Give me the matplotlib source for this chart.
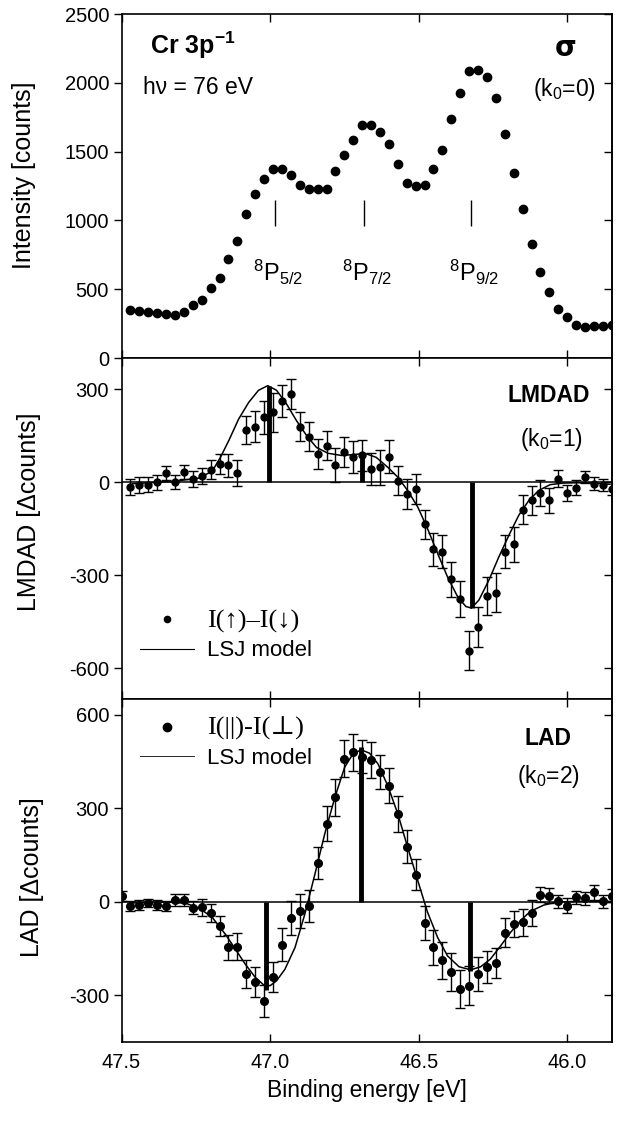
import numpy as np
import matplotlib.pyplot as plt
from matplotlib.lines import Line2D

plt.rcParams['font.family'] = ['Liberation Sans', 'DejaVu Sans']
plt.rcParams['mathtext.fontset'] = 'custom'
plt.rcParams['mathtext.rm'] = 'Liberation Sans'
plt.rcParams['mathtext.it'] = 'Liberation Sans:italic'
plt.rcParams['mathtext.bf'] = 'Liberation Sans:bold'
plt.rcParams['axes.unicode_minus'] = False

# binding energy grid of the measurement (eV)
energy = [47.47, 47.44, 47.41, 47.38, 47.35, 47.32, 47.29, 47.26, 47.23, 47.20,
          47.17, 47.14, 47.11, 47.08, 47.05, 47.02, 46.99, 46.96, 46.93, 46.90,
          46.87, 46.84, 46.81, 46.78, 46.75, 46.72, 46.69, 46.66, 46.63, 46.60,
          46.57, 46.54, 46.51, 46.48, 46.45, 46.42, 46.39, 46.36, 46.33, 46.30,
          46.27, 46.24, 46.21, 46.18, 46.15, 46.12, 46.09, 46.06, 46.03, 46.00,
          45.97, 45.94, 45.91, 45.88, 45.85]

# Cr 3p^-1 photoemission intensity (counts)
intensity = [348, 345, 336, 328, 319, 312, 336, 384, 420, 512,
             582, 723, 851, 1044, 1189, 1303, 1375, 1375, 1327, 1255,
             1230, 1230, 1230, 1356, 1477, 1586, 1697, 1697, 1641, 1557,
             1412, 1272, 1250, 1260, 1371, 1513, 1738, 1924, 2084, 2094,
             2040, 1891, 1625, 1347, 1085, 831, 626, 481, 355, 295,
             239, 227, 232, 232, 239]

# LMDAD I(up)-I(down)
lmdad = [-16, -10, -8, 0, 29, 0, 32, 11, 19, 40,
         59, 54, 29, 168, 179, 209, 225, 262, 283, 179,
         147, 91, 118, 56, 96, 82, 86, 43, 48, 82,
         5, -39, -21, -136, -217, -224, -313, -377, -543, -468,
         -367, -356, -224, -201, -89, -59, -35, -59, 11, -35,
         -18, 16, -5, -10, -21]
lmdad_err = [27, 26, 24, 24, 22, 22, 22, 26, 25, 30,
             32, 38, 41, 45, 51, 54, 62, 51, 48, 48,
             48, 48, 48, 54, 48, 51, 51, 51, 56, 54,
             46, 48, 48, 47, 54, 54, 56, 59, 64, 64,
             62, 63, 54, 56, 46, 46, 43, 40, 27, 27,
             24, 19, 20, 20, 20]

# LAD I(par)-I(perp), one extra point at 47.50 eV
lad_energy = [47.50] + energy
lad = [19, -13, -11, -4, -11, -13, 5, 5, -20, -18, -36,
       -77, -147, -145, -232, -259, -318, -241, -138, -53, -29,
       -13, 124, 250, 335, 459, 480, 466, 455, 416, 373,
       282, 177, 87, -69, -147, -188, -225, -281, -270, -232,
       -209, -198, -99, -72, -66, -37, 23, 19, 1, -13,
       14, 11, 30, 1, 19]
lad_err = [16, 16, 16, 13, 16, 16, 19, 19, 21, 27, 30,
           32, 41, 43, 45, 48, 51, 48, 54, 54, 54,
           51, 51, 56, 59, 59, 59, 54, 59, 54, 56,
           59, 54, 51, 54, 56, 59, 61, 62, 62, 54,
           51, 48, 48, 43, 43, 41, 24, 24, 21, 24,
           21, 21, 24, 21, 21]

# LSJ model curves
lmdad_model_e = [47.463, 47.329, 47.240, 47.195, 47.167, 47.139, 47.106, 47.072, 47.039, 47.008,
                 46.978, 46.944, 46.911, 46.877, 46.844, 46.805, 46.760, 46.715, 46.682, 46.643,
                 46.604, 46.570, 46.537, 46.503, 46.470, 46.436, 46.403, 46.369, 46.341, 46.322,
                 46.297, 46.263, 46.230, 46.196, 46.163, 46.129, 46.096, 46.057, 46.012, 45.957,
                 45.901, 45.856]
lmdad_model = [-5, 2, 13, 35, 80, 134, 203, 257, 296, 311,
               296, 251, 198, 150, 112, 93, 86, 89, 93, 80,
               48, 16, -27, -80, -150, -230, -305, -369, -401, -406,
               -380, -315, -241, -171, -107, -59, -27, -8, -3, -2,
               -3, -7]
lad_model_e = [47.463, 47.351, 47.284, 47.240, 47.195, 47.151, 47.117, 47.084, 47.050, 47.022,
               47.000, 46.978, 46.950, 46.916, 46.883, 46.849, 46.816, 46.782, 46.749, 46.721,
               46.693, 46.665, 46.637, 46.604, 46.570, 46.537, 46.503, 46.470, 46.436, 46.403,
               46.364, 46.325, 46.291, 46.258, 46.224, 46.191, 46.157, 46.124, 46.079, 46.034,
               45.968, 45.856]
lad_model = [-4, -1, -5, -20, -50, -104, -152, -200, -243, -267,
             -270, -254, -217, -147, -40, 89, 218, 335, 432, 475,
             488, 477, 443, 373, 282, 175, 68, -34, -115, -174,
             -209, -219, -209, -184, -142, -99, -61, -31, -11, -1,
             1, 1]

# 8P_J multiplet positions and LSJ line strengths
peak_e = [46.985, 46.685, 46.325]
peak_labels = [r'$^8$P$_{5/2}$', r'$^8$P$_{7/2}$', r'$^8$P$_{9/2}$']
lmdad_bar_e = [47.005, 46.69, 46.322]
lmdad_bar = [310, 95, -405]
lad_bar_e = [47.013, 46.695, 46.327]
lad_bar = [-284, 498, -222]

fig = plt.figure(figsize=(6.21, 11.21), dpi=100)
left, width = 0.1957, 0.7894
ax1 = fig.add_axes([left, 0.6806, width, 0.3069])
ax2 = fig.add_axes([left, 0.3762, width, 0.3044], sharex=ax1)
ax3 = fig.add_axes([left, 0.0707, width, 0.3054], sharex=ax1)

tick_fs = 14.5
for ax in (ax1, ax2, ax3):
    for s in ax.spines.values():
        s.set_linewidth(1.2)
    ax.tick_params(axis='x', direction='in', top=True, length=6, width=1,
                   labelsize=tick_fs, pad=8)
    ax.tick_params(axis='y', direction='out', length=6, width=1,
                   labelsize=tick_fs, pad=3)

ax1.set_xlim(47.5, 45.85)
ax1.set_xticks([47.5, 47.0, 46.5, 46.0])
ax3.set_xticklabels(['47.5', '47.0', '46.5', '46.0'])
ax1.tick_params(axis='x', labelbottom=False)
ax2.tick_params(axis='x', labelbottom=False)

# top panel: intensity
ax1.plot(energy, intensity, 'o', color='black', ms=6)
ax1.vlines(peak_e, 960, 1150, color='black', lw=1)
for e, lab in zip(peak_e, peak_labels):
    ax1.text(e - 0.012, 620, lab, ha='center', va='center', fontsize=17)
ax1.set_ylim(0, 2500)
ax1.set_yticks([0, 500, 1000, 1500, 2000, 2500])
ax1.set_ylabel('Intensity [counts]', fontsize=18)
ax1.yaxis.set_label_coords(-0.175, 0.53)
ax1.text(0.058, 0.91, r'Cr 3p$^{\mathbf{-1}}$', transform=ax1.transAxes,
         fontsize=18, fontweight='bold', va='center')
ax1.text(0.044, 0.785, 'hν = 76 eV', transform=ax1.transAxes,
         fontsize=16.5, va='center')
ax1.text(0.905, 0.9, 'σ', transform=ax1.transAxes, fontsize=20,
         fontweight='bold', ha='center', va='center',
         family=['DejaVu Sans'])
ax1.text(0.903, 0.78, r'(k$_0$=0)', transform=ax1.transAxes, fontsize=16.5,
         ha='center', va='center')

# middle panel: LMDAD
ax2.axhline(0, color='black', lw=1.1)
ax2.vlines(lmdad_bar_e, 0, lmdad_bar, color='black', lw=3.5)
ax2.errorbar(energy, lmdad, yerr=lmdad_err, fmt='o', color='black', ms=5,
             elinewidth=1, capsize=3.5, capthick=1)
ax2.plot(lmdad_model_e, lmdad_model, color='black', lw=1.1)
ax2.set_ylim(-700, 400)
ax2.set_yticks([-600, -300, 0, 300])
ax2.set_ylabel('LMDAD [Δcounts]', fontsize=18)
ax2.yaxis.set_label_coords(-0.165, 0.55)
ax2.text(0.872, 0.889, 'LMDAD', transform=ax2.transAxes, fontsize=16.5,
         fontweight='bold', ha='center', va='center')
ax2.text(0.877, 0.76, r'(k$_0$=1)', transform=ax2.transAxes, fontsize=16.5,
         ha='center', va='center')

# bottom panel: LAD
ax3.axhline(0, color='black', lw=1.1)
ax3.vlines(lad_bar_e, 0, lad_bar, color='black', lw=3.5)
ax3.errorbar(lad_energy, lad, yerr=lad_err, fmt='o', color='black', ms=5.5,
             elinewidth=1, capsize=3.5, capthick=1)
ax3.plot(lad_model_e, lad_model, color='black', lw=1.1)
ax3.set_ylim(-450, 650)
ax3.set_yticks([-300, 0, 300, 600])
ax3.set_ylabel('LAD [Δcounts]', fontsize=18)
ax3.yaxis.set_label_coords(-0.158, 0.48)
ax3.set_xlabel('Binding energy [eV]', fontsize=16.5, labelpad=5)
ax3.text(0.87, 0.885, 'LAD', transform=ax3.transAxes, fontsize=16.5,
         fontweight='bold', ha='center', va='center')
ax3.text(0.872, 0.776, r'(k$_0$=2)', transform=ax3.transAxes, fontsize=16.5,
         ha='center', va='center')

legends = [(ax2, 'I(↑)–I(↓)', 4.5, 0.8, (0.02, 0.085)),
           (ax3, 'I(||)-I(⊥)', 6, 0.6, (0.02, 0.77))]
for ax, lab, dot_ms, line_lw, anchor in legends:
    handles = [Line2D([], [], marker='o', ls='none', color='black', ms=dot_ms),
               Line2D([], [], color='black', lw=line_lw)]
    leg = ax.legend(handles, [lab, 'LSJ model'], loc='lower left',
                    bbox_to_anchor=anchor, frameon=False, fontsize=16,
                    handlelength=2.4, handletextpad=0.6, labelspacing=0.35,
                    borderaxespad=0)
    leg.get_texts()[0].set_family(['Liberation Serif', 'DejaVu Serif'])
    leg.get_texts()[0].set_fontsize(19)

# inward ticks on the right spine
for ax in (ax1, ax2, ax3):
    sec = ax.secondary_yaxis('right')
    sec.set_yticks(ax.get_yticks())
    sec.tick_params(direction='in', length=6, width=1, labelright=False)
    sec.spines['right'].set_linewidth(1.2)

fig.savefig('out.png', dpi=100)
